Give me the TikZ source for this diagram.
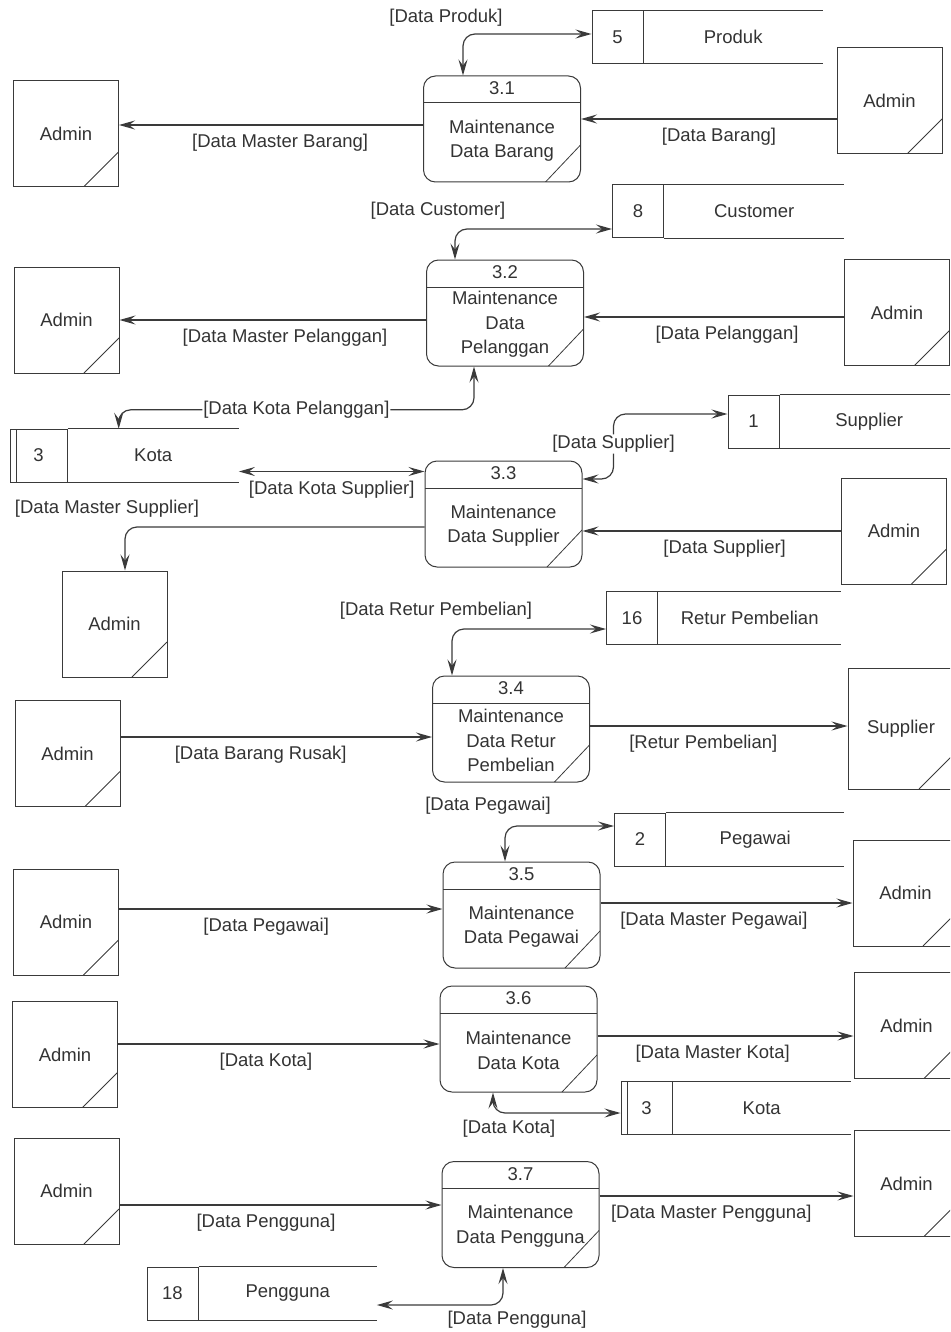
\documentclass[tikz,border=0pt]{standalone}
\usepackage{fontspec}
\setmainfont{Liberation Sans}
\usepackage{tikz}
\usetikzlibrary{arrows.meta,positioning}
\definecolor{linec}{HTML}{3A3A3A}
\definecolor{textc}{HTML}{333333}
\newcommand\dfdfont{\fontsize{18.5}{24.5}\selectfont}

\begin{document}
\begin{tikzpicture}[
  x=1pt,y=-1pt,
  font=\dfdfont,text=textc,
  proc/.style={draw=linec,line width=1pt,rounded corners=12pt,minimum width=157pt,minimum height=106pt,inner sep=0pt,
    path picture={
      \draw[linec,line width=1pt] ([yshift=-27pt]path picture bounding box.north west) -- ([yshift=-27pt]path picture bounding box.north east);
      \draw[linec,line width=0.8pt] ([xshift=-35pt]path picture bounding box.south east) -- ([yshift=37pt]path picture bounding box.south east);}},
  pnum/.style={anchor=center,yshift=-13pt,inner sep=0pt},
  pname/.style={anchor=center,yshift=42pt,inner sep=0pt,align=center},
  entity/.style={draw=linec,line width=1pt,minimum width=105pt,minimum height=106pt,inner sep=0pt,
    path picture={
      \draw[linec,line width=0.8pt] ([xshift=-35pt]path picture bounding box.south east) -- ([yshift=35pt]path picture bounding box.south east);}},
  snum/.style={draw=linec,line width=1pt,minimum width=51pt,minimum height=53pt,inner sep=0pt},
  kota/.style={snum,minimum width=57pt,
    path picture={
      \draw[linec,line width=1pt] ([xshift=6pt]path picture bounding box.north west) -- ([xshift=6pt]path picture bounding box.south west);}},
  sname/.style={minimum width=179pt,minimum height=53pt,inner sep=0pt,
    append after command={\pgfextra{\let\stn\tikzlastnode
      \draw[linec,line width=1pt] (\stn.north west) -- (\stn.north east) (\stn.south west) -- (\stn.south east);}}},
  lbl/.style={inner sep=1pt},
  lblb/.style={lbl,yshift=-18pt},
  flow/.style={draw=linec,line width=1.2pt,rounded corners=12pt,-{Stealth[length=16pt,width=9pt,inset=6pt]}},
  both/.style={flow,{Stealth[length=16pt,width=9pt,inset=6pt]}-{Stealth[length=16pt,width=9pt,inset=6pt]}}
]
\useasboundingbox (0,0) rectangle (950,1332);
\clip (0,0) rectangle (950,1332);

% 3.1
\node[proc,label={[pnum]north:3.1},label={[pname]south:{Maintenance\\Data Barang}}] (p31) at (502,129) {};
\node[entity] (a1l) at (66,134) {Admin};
\node[entity] (a1r) at (889.5,101) {Admin};
\node[snum] (st5num) at (617.5,37) {5};
\node[sname,right=0pt of st5num] (st5name) {Produk};
\draw[flow] ([yshift=4pt]p31.west) -- node[lblb,pos=0.47] {[Data Master Barang]} ([yshift=4pt]p31.west -| a1l.east);
\draw[flow] ([yshift=-18pt]a1r.west) -- node[lblb,pos=0.46] {[Data Barang]} ([yshift=-18pt]a1r.west -| p31.east);
\draw[both] ([xshift=-39pt]p31.north) |- node[lbl,pos=0.5,xshift=-17pt,yshift=16pt] {[Data Produk]} ([yshift=3pt]st5num.west);

% 3.2
\node[proc,label={[pnum]north:3.2},label={[pname]south:{Maintenance\\Data\\Pelanggan}}] (p32) at (505,313) {};
\node[entity] (a2l) at (66.5,320) {Admin};
\node[entity] (a2r) at (897,312.5) {Admin};
\node[snum] (st8num) at (638,211.5) {8};
\node[sname,minimum width=180pt,right=0pt of st8num] (st8name) {Customer};
\node[kota] (kt1num) at (38.5,455.5) {3};
\node[sname,minimum width=171pt,right=0pt of kt1num] (kt1name) {Kota};
\draw[flow] ([yshift=-7pt]p32.west) -- node[lblb,pos=0.46] {[Data Master Pelanggan]} ([yshift=-7pt]p32.west -| a2l.east);
\draw[flow] ([yshift=-4.5pt]a2r.west) -- node[lblb,pos=0.45] {[Data Pelanggan]} ([yshift=-4.5pt]a2r.west -| p32.east);
\draw[both] ([xshift=-50pt]p32.north) |- node[lbl,pos=0.5,xshift=-17pt,yshift=18pt] {[Data Customer]} ([yshift=-17.5pt]st8num.west);
\draw[both] ([xshift=-31pt]p32.south) |- node[lbl,fill=white,pos=0.75] {[Data Kota Pelanggan]} ([xshift=-34.5pt,yshift=19pt]kt1name.north) [sharp corners] -- ([xshift=-34.5pt]kt1name.north);

% 3.3
\node[proc,label={[pnum]north:3.3},label={[pname]south:{Maintenance\\Data Supplier}}] (p33) at (503.5,514) {};
\node[entity] (a3r) at (894,531) {Admin};
\node[entity] (a3l) at (114.5,624) {Admin};
\node[snum] (st1num) at (753.5,421.5) {1};
\node[sname,right=0pt of st1num] (st1name) {Supplier};
\draw[both] ([yshift=-16pt]kt1name.east) -- node[lblb,pos=0.5] {[Data Kota Supplier]} ([yshift=-16pt]kt1name.east -| p33.west);
\draw[flow] ([yshift=-13pt]p33.west) -| node[lbl,pos=0.5,xshift=-18pt,yshift=18pt] {[Data Master Supplier]} ([xshift=10.5pt]a3l.north);
\draw[both] ([yshift=35pt]p33.east) -- ++(31,0) |- node[lbl,fill=white,pos=0.27] {[Data Supplier]} ([yshift=7.5pt]st1num.west);
\draw[flow] (a3r.west) -- node[lblb,pos=0.45] {[Data Supplier]} (a3r.west -| p33.east);

% 3.4
\node[proc,label={[pnum]north:3.4},label={[pname]south:{Maintenance\\Data Retur\\Pembelian}}] (p34) at (511,729) {};
\node[entity] (a4l) at (67.5,753.5) {Admin};
\node[entity,minimum width=106pt,minimum height=121pt] (sup) at (901,728.5) {Supplier};
\node[snum] (st16num) at (632,618) {16};
\node[sname,minimum width=183pt,right=0pt of st16num] (st16name) {Retur Pembelian};
\draw[both] ([xshift=-59pt]p34.north) |- node[lbl,pos=0.5,xshift=-16pt,yshift=18pt] {[Data Retur Pembelian]} ([yshift=-11pt]st16num.west);
\draw[flow] ([yshift=16.5pt]a4l.east) -- node[lblb,pos=0.45] {[Data Barang Rusak]} ([yshift=16.5pt]a4l.east -| p34.west);
\draw[flow] ([yshift=3pt]p34.east) -- node[lblb,pos=0.44] {[Retur Pembelian]} ([yshift=3pt]p34.east -| sup.west);

% 3.5
\node[proc,label={[pnum]north:3.5},label={[pname]south:{Maintenance\\Data Pegawai}}] (p35) at (521.5,915) {};
\node[entity] (a5l) at (66,922) {Admin};
\node[entity] (a5r) at (905.5,893) {Admin};
\node[snum] (st2num) at (640,839.5) {2};
\node[sname,minimum width=178pt,right=0pt of st2num] (st2name) {Pegawai};
\draw[both] ([xshift=-16.5pt]p35.north) |- node[lbl,pos=0.5,xshift=-17pt,yshift=20pt] {[Data Pegawai]} ([yshift=13.5pt]st2num.west);
\draw[flow] ([yshift=13pt]a5l.east) -- node[lblb,pos=0.455] {[Data Pegawai]} ([yshift=13pt]a5l.east -| p35.west);
\draw[flow] ([yshift=12pt]p35.east) -- node[lblb,pos=0.45] {[Data Master Pegawai]} ([yshift=12pt]p35.east -| a5r.west);

% 3.6
\node[proc,label={[pnum]north:3.6},label={[pname]south:{Maintenance\\Data Kota}}] (p36) at (518.5,1039) {};
\node[entity] (a6l) at (65,1054.5) {Admin};
\node[entity] (a6r) at (906.5,1025.5) {Admin};
\node[kota,minimum width=51pt] (kt2num) at (646.5,1108) {3};
\node[sname,minimum width=178pt,right=0pt of kt2num] (kt2name) {Kota};
\draw[flow] ([yshift=10.5pt]a6l.east) -- node[lblb,pos=0.46] {[Data Kota]} ([yshift=10.5pt]a6l.east -| p36.west);
\draw[flow] ([yshift=3pt]p36.east) -- node[lblb,pos=0.45] {[Data Master Kota]} ([yshift=3pt]p36.east -| a6r.west);
\draw[both] ([xshift=-25.5pt]p36.south) |- node[lbl,pos=0.5,xshift=16pt,yshift=-16pt] {[Data Kota]} ([yshift=-5pt]kt2num.west);

% 3.7
\node[proc,label={[pnum]north:3.7},label={[pname]south:{Maintenance\\Data Pengguna}}] (p37) at (520.5,1214.5) {};
\node[entity] (a7l) at (66.5,1191) {Admin};
\node[entity] (a7r) at (906.5,1183.5) {Admin};
\node[snum] (st18num) at (172.5,1293.5) {18};
\node[sname,minimum width=178pt,right=0pt of st18num] (st18name) {Pengguna};
\draw[flow] ([yshift=-14pt]a7l.east) -- node[lblb,pos=0.455] {[Data Pengguna]} ([yshift=-14pt]a7l.east -| p37.west);
\draw[flow] ([yshift=18.5pt]p37.east) -- node[lblb,pos=0.44] {[Data Master Pengguna]} ([yshift=18.5pt]p37.east -| a7r.west);
\draw[both] ([xshift=-17.5pt]p37.south) |- node[lbl,pos=0.5,xshift=14pt,yshift=-15pt] {[Data Pengguna]} ([yshift=-11.5pt]st18name.east);
\end{tikzpicture}
\end{document}
